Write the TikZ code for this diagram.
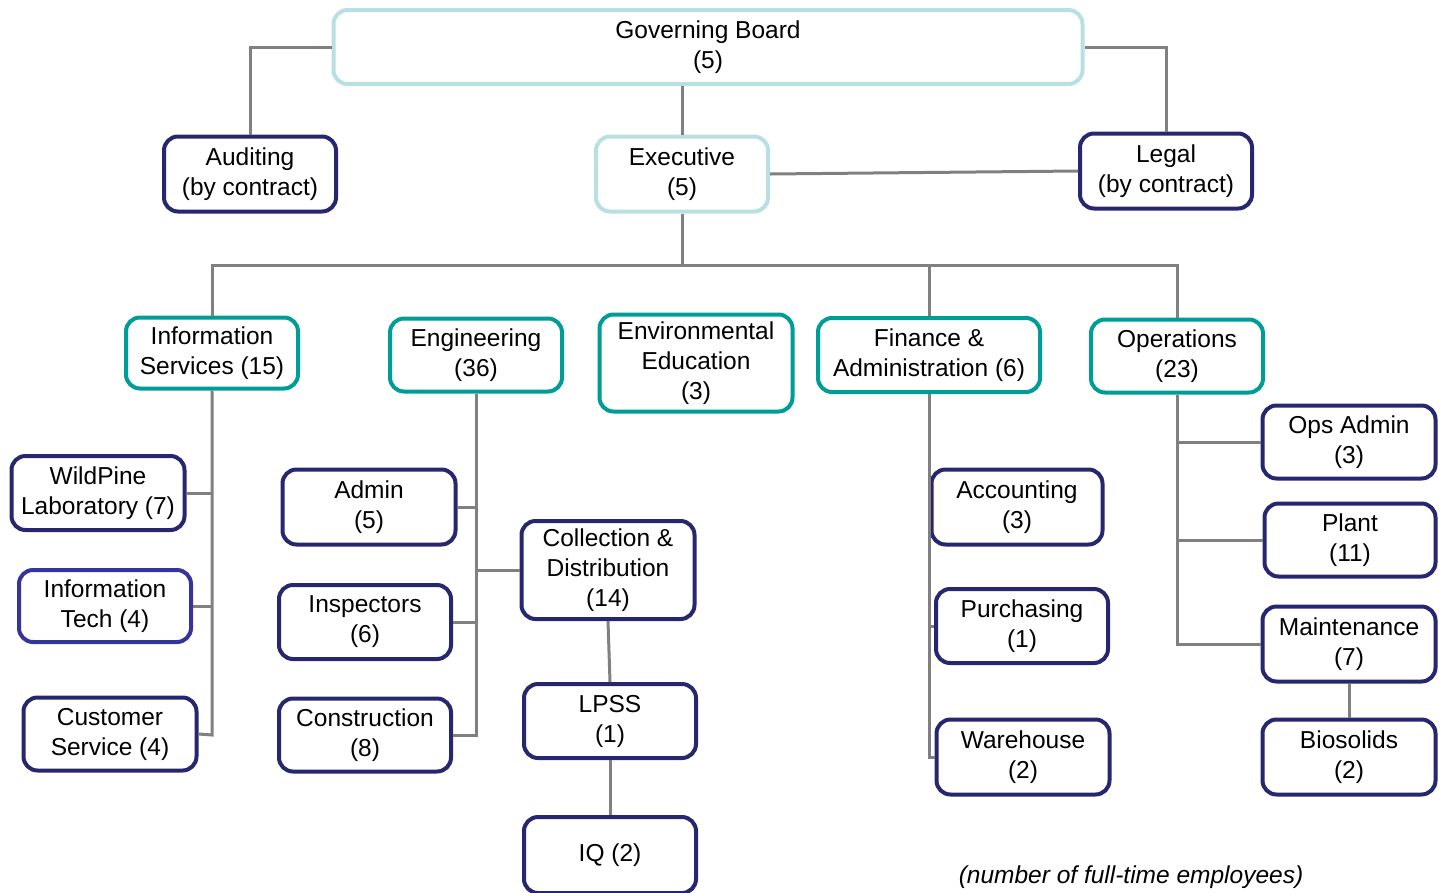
\documentclass[tikz,border=0pt]{standalone}
\usepackage{fontspec}
\setmainfont{Liberation Sans}
\definecolor{lightc}{HTML}{B9DFE3}
\definecolor{teal2}{HTML}{009C98}
\definecolor{navy}{HTML}{27276F}
\definecolor{navyb}{HTML}{34349A}
\definecolor{conn}{HTML}{808080}
\begin{document}
\begin{tikzpicture}[x=1pt,y=-1pt,
  box/.style={draw, rounded corners=14pt, line width=4pt, fill=white, align=center, inner sep=0pt,
    font=\fontsize{24.5}{30}\selectfont},
  topbox/.style={box, draw=lightc},
  deptbox/.style={box, draw=teal2},
  unitbox/.style={box, draw=navy},
  conline/.style={draw=conn, line width=3pt}]
\useasboundingbox (0,0) rectangle (1446,892);
% boxes
\node[topbox, minimum width=749, minimum height=74] (gb) at (708,47) {Governing Board\\(5)};
\node[unitbox, minimum width=172, minimum height=75] (aud) at (250,174) {Auditing\\(by contract)};
\node[topbox, minimum width=172, minimum height=75] (exe) at (682,174) {Executive\\(5)};
\node[unitbox, minimum width=172, minimum height=75] (leg) at (1166,171) {Legal\\(by contract)};

\node[deptbox, minimum width=172, minimum height=71] (is) at (212,353) {Information\\Services (15)};
\node[deptbox, minimum width=172, minimum height=73] (eng) at (476,355) {Engineering\\(36)};
\node[deptbox, minimum width=193, minimum height=97] (env) at (696,363) {Environmental\\Education\\(3)};
\node[deptbox, minimum width=222, minimum height=74] (fa) at (929,355) {Finance \&\\Administration (6)};
\node[deptbox, minimum width=172, minimum height=73] (ops) at (1177,356) {Operations\\(23)};

\node[unitbox, minimum width=173, minimum height=74] (wp) at (98,493) {WildPine\\Laboratory (7)};
\node[box, draw=navyb, minimum width=172, minimum height=72] (it) at (105,606) {Information\\Tech (4)};
\node[unitbox, minimum width=173, minimum height=73] (cs) at (110,734) {Customer\\Service (4)};

\node[unitbox, minimum width=173, minimum height=75] (adm) at (369,507) {Admin\\(5)};
\node[unitbox, minimum width=172, minimum height=74] (ins) at (365,622) {Inspectors\\(6)};
\node[unitbox, minimum width=172, minimum height=73] (con) at (365,735) {Construction\\(8)};
\node[unitbox, minimum width=173, minimum height=98] (cd) at (608,570) {Collection \&\\Distribution\\(14)};
\node[unitbox, minimum width=172, minimum height=74] (lpss) at (610,721) {LPSS\\(1)};
\node[unitbox, minimum width=172, minimum height=76] (iq) at (610,855) {IQ (2)};

\node[unitbox, minimum width=171, minimum height=75] (acc) at (1017,507) {Accounting\\(3)};
\node[unitbox, minimum width=172, minimum height=74] (pur) at (1022,626) {Purchasing\\(1)};
\node[unitbox, minimum width=173, minimum height=75] (wh) at (1023,757) {Warehouse\\(2)};

\node[unitbox, minimum width=173, minimum height=73] (opa) at (1349,442) {Ops Admin\\(3)};
\node[unitbox, minimum width=171, minimum height=73] (pl) at (1350,540) {Plant\\(11)};
\node[unitbox, minimum width=173, minimum height=75] (mt) at (1349,644) {Maintenance\\(7)};
\node[unitbox, minimum width=173, minimum height=75] (bio) at (1349,757) {Biosolids\\(2)};

\node[font=\fontsize{24.5}{30}\selectfont\itshape] (note) at (1131,877) {(number of full-time employees)};

% connectors
\begin{scope}[on background layer/.style={}]
\end{scope}
\coordinate (bus) at (682,265);
\draw[conline] (gb.west) -| (aud.north);
\draw[conline] (gb.east) -| (leg.north);
\draw[conline] (gb.south -| exe.north) -- (exe.north);
\draw[conline] (exe.east) -- (leg.west);
\draw[conline] (exe.south) -- (bus);
\draw[conline] (bus) -| (is.north);
\draw[conline] (bus) -| (fa.north);
\draw[conline] (bus) -| (ops.north);

\coordinate (isd) at (212,735);
\draw[conline] (is.south) -- (isd) -- (cs.east);
\draw[conline] (wp.east) -- (wp.east -| isd);
\draw[conline] (it.east) -- (it.east -| isd);

\coordinate (engd) at (476,735);
\draw[conline] (eng.south) -- (engd) -- (con.east);
\draw[conline] (adm.east) -- (adm.east -| engd);
\draw[conline] (ins.east) -- (ins.east -| engd);
\draw[conline] (cd.west) -- (cd.west -| engd);
\draw[conline] (cd.south) -- (lpss.north);
\draw[conline] (lpss.south) -- (iq.north);

\coordinate (fad) at (929,757);
\draw[conline] (fa.south) -- (fad) -- (wh.west);
\draw[conline] (acc.west) -- (acc.west -| fad);
\draw[conline] (pur.west) -- (pur.west -| fad);

\coordinate (opsd) at (1177,644);
\draw[conline] (ops.south) -- (opsd) -- (mt.west);
\draw[conline] (opa.west) -- (opa.west -| opsd);
\draw[conline] (pl.west) -- (pl.west -| opsd);
\draw[conline] (mt.south) -- (bio.north);
\end{tikzpicture}
\end{document}
